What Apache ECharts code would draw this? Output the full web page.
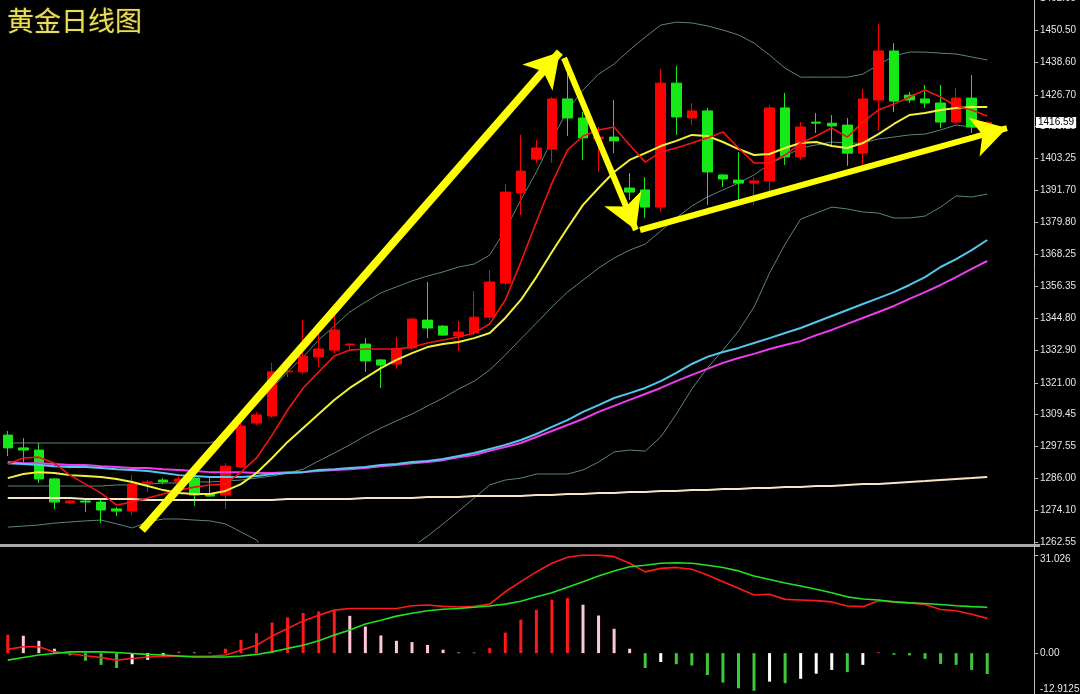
<!DOCTYPE html>
<html><head><meta charset="utf-8">
<script src="https://cdn.jsdelivr.net/npm/echarts@6/dist/echarts.min.js"></script>
<style>html,body{margin:0;padding:0;background:#000;}#c{width:1080px;height:694px;}</style>
</head><body><div id="c"></div>
<script>
const chartTitle = '黄金日线图';
// daily candles (price)
const opens  = [1301.8,1297.1,1296.3,1285.7,1276.9,1277.6,1277.2,1274.7,1273.9,1284.2,1285.3,1284.6,1286.0,1280.2,1279.8,1290.1,1306.2,1308.8,1325.0,1325.0,1330.5,1333.0,1334.9,1335.2,1329.4,1327.9,1333.8,1344.0,1341.8,1338.2,1339.3,1345.1,1357.6,1390.7,1403.1,1406.8,1425.2,1418.2,1410.5,1411.2,1392.5,1391.8,1385.5,1431.0,1418.2,1420.8,1397.3,1395.4,1394.3,1395.1,1421.9,1403.9,1416.7,1416.3,1415.6,1405.3,1424.8,1442.8,1426.6,1425.2,1423.7,1416.7,1425.5,1414.9];
const closes = [1297.1,1296.3,1285.7,1277.2,1277.6,1277.2,1274.3,1273.9,1283.8,1284.6,1284.6,1285.7,1279.8,1279.4,1290.4,1305.1,1309.2,1325.0,1325.3,1330.8,1333.4,1340.4,1335.2,1329.0,1327.5,1333.4,1344.4,1341.1,1338.5,1339.6,1345.1,1358.0,1391.0,1398.7,1407.2,1425.2,1418.2,1410.9,1411.2,1409.8,1391.0,1385.5,1431.0,1418.6,1420.8,1398.4,1395.8,1394.3,1395.1,1421.9,1403.9,1414.9,1416.3,1415.3,1405.3,1425.2,1442.8,1424.4,1424.8,1423.7,1416.7,1425.5,1414.9,1416.59];
const lows   = [1294.1,1291.9,1284.2,1274.7,1276.5,1273.6,1269.5,1272.1,1272.5,1280.9,1283.8,1283.8,1275.8,1279.1,1274.7,1289.7,1305.5,1308.1,1323.1,1324.2,1326.8,1331.9,1333.4,1325.0,1319.1,1326.1,1333.0,1337.4,1338.2,1332.7,1338.5,1344.0,1356.9,1382.6,1401.7,1401.7,1411.6,1402.8,1398.4,1405.3,1388.1,1381.5,1383.7,1412.0,1415.6,1386.3,1392.9,1387.0,1386.3,1391.0,1400.9,1402.8,1412.7,1407.6,1400.6,1400.9,1413.8,1420.4,1423.7,1421.9,1414.5,1416.0,1412.7,1414.5];
const highs  = [1303.3,1300.7,1298.9,1286.0,1278.0,1278.7,1278.0,1275.4,1287.1,1285.3,1286.0,1286.8,1287.1,1286.4,1291.5,1306.2,1310.3,1328.3,1328.3,1344.0,1339.3,1345.9,1335.6,1337.4,1329.7,1337.8,1344.8,1358.0,1342.2,1343.7,1354.7,1362.4,1394.0,1412.0,1410.1,1425.9,1435.1,1420.4,1414.9,1424.8,1398.0,1396.5,1436.2,1437.3,1423.7,1421.9,1397.6,1405.7,1396.5,1423.0,1427.4,1416.7,1420.0,1419.3,1418.2,1428.8,1452.7,1445.7,1427.7,1430.3,1430.3,1429.2,1434.0,1417.1];
// moving averages
const maRed     = [1291.2,1293.4,1293.7,1291.5,1287.1,1283.8,1280.5,1276.1,1277.2,1278.7,1280.2,1281.6,1282.7,1283.5,1283.8,1288.2,1293.4,1301.8,1311.0,1319.1,1325.0,1330.8,1333.0,1333.4,1333.4,1333.4,1334.1,1335.6,1336.7,1337.8,1339.3,1342.6,1351.4,1365.3,1380.0,1394.3,1406.4,1411.6,1413.8,1414.9,1408.3,1402.0,1405.7,1407.2,1409.0,1410.9,1413.1,1407.2,1401.7,1401.7,1404.6,1409.0,1411.6,1414.5,1411.2,1416.7,1421.1,1423.3,1425.9,1428.5,1425.9,1422.6,1421.1,1418.9];
const maYellow  = [1286.0,1287.5,1288.2,1287.9,1287.1,1286.8,1286.4,1285.7,1284.6,1283.1,1281.6,1280.5,1280.2,1280.2,1281.3,1283.8,1287.9,1293.4,1299.3,1304.4,1309.5,1314.7,1319.1,1322.8,1326.4,1329.4,1331.9,1334.1,1335.2,1336.0,1337.4,1339.3,1344.8,1351.4,1359.8,1369.0,1377.8,1386.3,1392.5,1398.4,1402.8,1405.3,1407.9,1409.8,1412.0,1411.6,1409.4,1406.8,1404.6,1405.0,1407.2,1409.0,1409.4,1407.9,1407.2,1409.0,1412.3,1416.0,1419.3,1420.0,1421.1,1421.9,1422.2,1422.2];
const maCyan    = [1291.5,1291.2,1290.8,1290.4,1290.1,1290.1,1289.7,1289.3,1289.0,1288.6,1287.9,1287.1,1286.8,1286.4,1286.4,1286.4,1286.8,1287.5,1287.9,1288.2,1289.0,1289.3,1289.7,1290.1,1290.8,1291.2,1291.9,1292.3,1293.0,1294.1,1295.2,1296.7,1298.2,1300.0,1302.2,1304.8,1307.3,1310.3,1312.8,1315.4,1317.2,1319.1,1321.6,1324.6,1327.9,1330.5,1332.3,1333.8,1335.6,1337.4,1339.3,1341.1,1343.3,1345.5,1347.7,1349.9,1352.1,1354.3,1356.9,1359.8,1363.5,1366.4,1369.7,1373.4];
const maMagenta = [1291.9,1291.5,1291.5,1291.2,1290.8,1290.8,1290.4,1290.1,1289.7,1289.7,1289.3,1289.0,1288.6,1288.2,1288.2,1288.2,1287.9,1287.9,1288.2,1288.2,1288.6,1289.0,1289.3,1289.7,1290.4,1290.8,1291.5,1291.9,1292.6,1293.7,1294.5,1296.0,1297.4,1298.9,1301.1,1303.3,1305.5,1307.7,1310.3,1312.5,1314.7,1316.9,1319.1,1321.6,1323.9,1326.1,1328.3,1330.1,1331.6,1333.4,1334.9,1336.3,1338.5,1340.4,1342.6,1344.8,1347.0,1349.2,1351.8,1354.3,1356.9,1359.8,1362.8,1365.7];
const maCream   = [1278.7,1278.7,1278.7,1278.7,1278.7,1278.3,1278.3,1278.3,1278.3,1278.0,1278.0,1278.0,1278.0,1278.0,1278.0,1278.0,1278.0,1278.0,1278.3,1278.3,1278.3,1278.3,1278.3,1278.7,1278.7,1278.7,1278.7,1279.1,1279.1,1279.1,1279.4,1279.4,1279.4,1279.4,1279.8,1279.8,1280.2,1280.2,1280.5,1280.5,1280.9,1280.9,1281.3,1281.3,1281.6,1281.6,1282.0,1282.0,1282.4,1282.4,1282.7,1282.7,1283.1,1283.1,1283.5,1283.8,1283.8,1284.2,1284.6,1284.9,1285.3,1285.7,1286.0,1286.4];
// Bollinger bands
const bollUpper = [1298.9,1298.9,1298.9,1298.9,1298.9,1298.9,1298.9,1298.9,1298.9,1298.9,1298.9,1298.9,1298.9,1298.9,1300.7,1307.3,1313.2,1319.1,1325.0,1330.5,1336.7,1341.8,1347.0,1350.6,1354.0,1356.2,1358.4,1360.2,1361.7,1363.5,1364.6,1367.9,1377.1,1388.1,1398.4,1410.1,1421.1,1428.5,1434.3,1438.0,1443.2,1447.9,1452.3,1453.4,1453.1,1452.0,1450.5,1448.7,1445.7,1441.3,1436.5,1433.2,1433.2,1433.2,1433.2,1434.3,1437.7,1441.0,1442.4,1442.4,1442.0,1441.7,1440.6,1439.5];
const bollMid   = [1283.1,1283.1,1283.1,1283.1,1283.1,1283.1,1283.1,1283.5,1283.5,1283.8,1284.2,1284.2,1284.6,1284.6,1284.9,1285.3,1286.0,1286.8,1287.9,1289.3,1292.3,1295.2,1298.2,1301.5,1304.4,1307.0,1309.5,1312.5,1315.4,1318.7,1321.6,1325.7,1331.2,1337.1,1342.9,1348.8,1354.3,1358.7,1363.1,1366.8,1369.7,1371.9,1376.7,1381.5,1385.9,1389.2,1391.8,1394.3,1397.3,1401.3,1404.2,1407.2,1408.3,1409.4,1409.0,1409.0,1410.5,1411.2,1412.0,1412.3,1413.8,1415.6,1414.9,1414.9];
const bollLower = [1268.0,1268.4,1268.8,1269.5,1269.9,1270.3,1270.6,1269.2,1267.7,1269.9,1271.0,1271.0,1270.6,1270.3,1269.2,1266.2,1263.3,1254.5,1250.8,1248.2,1247.9,1248.6,1249.3,1252.3,1254.8,1257.8,1260.7,1264.7,1269.2,1273.9,1278.7,1283.5,1285.3,1286.0,1287.5,1287.5,1287.5,1289.0,1291.9,1295.6,1296.3,1295.9,1301.1,1309.5,1318.7,1326.4,1333.0,1340.0,1348.8,1361.3,1371.9,1381.1,1383.3,1385.5,1384.8,1383.7,1383.3,1381.5,1381.5,1382.2,1385.5,1389.6,1389.2,1390.3];
// MACD pane
const macdHist = [5.8,5.5,3.9,1.4,-0.7,-2.4,-3.7,-4.7,-3.5,-2.1,-1.1,0.5,0.2,0.15,1.4,4.2,6.3,9.7,11.3,12.7,13.2,13.4,11.8,8.4,5.6,3.9,3.5,2.6,1.1,0.2,0.15,1.6,6.5,10.6,13.7,16.9,17.4,15.3,11.9,7.7,1.4,-4.7,-2.8,-3.5,-3.9,-6.9,-9.3,-11.1,-11.9,-9.0,-9.5,-8.1,-6.5,-5.3,-6.0,-3.7,0.3,-0.5,-0.7,-1.8,-3.4,-3.7,-5.3,-6.6];
const macdDif  = [1.2,2.0,2.0,0.4,-0.1,-0.8,-1.4,-2.2,-1.7,-1.2,-1.0,-1.0,-1.0,-1.0,-0.6,0.9,2.5,5.4,7.8,10.2,12.0,13.6,14.1,14.1,14.1,14.1,15.0,15.2,14.8,14.6,14.8,15.5,19.4,22.6,25.7,28.4,30.3,31.0,31.0,30.5,28.4,25.7,26.8,27.1,26.5,24.7,22.6,20.5,18.4,18.6,17.0,16.8,16.6,16.2,14.9,14.7,16.6,16.2,15.9,15.4,13.8,13.4,12.3,11.0];
const macdDea  = [-2.2,-1.4,-0.6,-0.1,0.4,0.4,0.4,0.2,-0.1,-0.4,-0.6,-0.9,-1.2,-1.2,-1.2,-0.9,-0.4,0.4,1.5,2.5,3.9,5.7,7.3,9.2,10.4,11.7,12.6,13.4,13.9,14.1,14.5,14.9,15.5,16.4,17.8,19.1,20.8,22.6,24.4,26.0,27.3,27.8,28.4,28.6,28.4,27.8,27.1,26.0,24.4,23.3,22.2,21.2,20.2,19.1,17.8,17.1,16.8,16.2,15.9,15.7,15.4,15.0,14.7,14.5];
// axis ticks
const priceTicks = [1262.55,1274.10,1286.00,1297.55,1309.45,1321.00,1332.90,1344.80,1356.35,1368.25,1379.80,1391.70,1403.25,1415.15,1426.70,1438.60,1450.50,1462.05];
const macdTicks = [31.026, 0, -12.9125];
const macdTickLabels = ['31.026', '0.00', '-12.9125'];
const lastPrice = 1416.59;
// annotation arrows: [start [bar, price], tip [bar, price]]
const arrowPaths = [
  [[8.63, 1266.95], [35.51, 1442.42]],
  [[35.78, 1440.22], [40.40, 1377.08]],
  [[40.67, 1377.08], [64.27, 1414.52]]
];
const arrowWidths = [8, 6, 6];

const days = opens.map((_, i) => String(i + 1));
const candles = opens.map((o, i) => [o, closes[i], lows[i], highs[i]]);
const priceMin = 1262.55, priceMax = 1462.25;
const plotWidth = 995, chartWidth = 1080;
const barSlots = plotWidth / days.length;           // width of one bar slot
const annotMax = -0.5 + chartWidth / barSlots;        // wider overlay axis so the last arrow may pass the price axis

const chart = echarts.init(document.getElementById('c'), null, {renderer: 'canvas'});
const lineS = (data, color, width, z) => ({
  type: 'line', data, xAxisIndex: 0, yAxisIndex: 0, showSymbol: false, symbol: 'none',
  lineStyle: {color, width}, silent: true, z: z || 3, animation: false
});
const axisFont = {color: '#e6e6e6', fontSize: 10, fontFamily: 'Liberation Sans'};

chart.setOption({
  backgroundColor: '#000',
  animation: false,
  title: {text: chartTitle, left: 2, top: 2, textStyle: {color: '#e8de5c', fontSize: 27, fontWeight: 'normal', fontFamily: 'Noto Sans CJK SC',
    textShadowColor: 'rgba(90,80,0,0.8)', textShadowBlur: 2}},
  grid: [
    {left: 0, width: plotWidth, top: -2, height: 544, outerBoundsMode: 'none', containLabel: false},
    {left: 0, width: plotWidth, top: 555, height: 139, outerBoundsMode: 'none', containLabel: false},
    {left: 0, width: chartWidth, top: -2, height: 544, outerBoundsMode: 'none', containLabel: false}
  ],
  xAxis: [
    {type: 'category', gridIndex: 0, data: days, boundaryGap: true, show: false},
    {type: 'value', gridIndex: 0, min: -0.5, max: days.length - 0.5, show: false},
    {type: 'category', gridIndex: 1, data: days, boundaryGap: true, show: false},
    {type: 'value', gridIndex: 2, min: -0.5, max: annotMax, show: false}
  ],
  yAxis: [
    {type: 'value', gridIndex: 0, position: 'right', offset: 39, min: priceMin, max: priceMax,
     splitLine: {show: false},
     axisLine: {show: true, onZero: false, lineStyle: {color: '#bdbdbd', width: 1}},
     axisTick: {show: true, length: 4, inside: false, customValues: priceTicks, lineStyle: {color: '#bdbdbd'}},
     axisLabel: Object.assign({customValues: priceTicks, margin: 6, formatter: v => v.toFixed(2)}, axisFont)},
    {type: 'value', gridIndex: 1, position: 'right', offset: 39, min: -12.9125, max: 31.026,
     splitLine: {show: false},
     axisLine: {show: true, onZero: false, lineStyle: {color: '#bdbdbd', width: 1}},
     axisTick: {show: true, length: 4, customValues: macdTicks, lineStyle: {color: '#bdbdbd'}},
     axisLabel: Object.assign({customValues: macdTicks, margin: 6,
       formatter: v => {
         const k = macdTicks.indexOf(v);
         if (k === 0) return '{hi|' + macdTickLabels[k] + '}';
         if (k === 2) return '{lo|' + macdTickLabels[k] + '}';
         return k >= 0 ? macdTickLabels[k] : '';
       },
       rich: {hi: {padding: [8, 0, 0, 0], color: '#e6e6e6', fontSize: 10, fontFamily: 'Liberation Sans'},
              lo: {padding: [0, 0, 10, 0], color: '#e6e6e6', fontSize: 10, fontFamily: 'Liberation Sans'}}}, axisFont)},
    {type: 'value', gridIndex: 2, min: priceMin, max: priceMax, show: false, splitLine: {show: false}}
  ],
  graphic: [
    {type: 'rect', shape: {x: 0, y: 544, width: 1040, height: 3}, style: {fill: '#a9a9a9'}, silent: true, z: 10},
    {type: 'rect', shape: {x: 1034, y: 540, width: 1, height: 16}, style: {fill: '#bdbdbd'}, silent: true, z: 10}
  ],
  series: [
    {type: 'candlestick', data: candles, xAxisIndex: 0, yAxisIndex: 0, barWidth: 10, silent: true, z: 2,
     itemStyle: {color: '#ff0000', color0: '#17e817', borderColor: '#ff0000', borderColor0: '#17e817', borderWidth: 1}},
    lineS(bollUpper, '#5b8679', 1, 2),
    lineS(bollMid, '#5b8679', 1, 2),
    lineS(bollLower, '#5b8679', 1, 2),
    lineS(maCream, '#f7e3c6', 2),
    lineS(maMagenta, '#ee3cee', 2),
    lineS(maCyan, '#55c6ee', 2),
    lineS(maYellow, '#f2f23a', 2),
    lineS(maRed, '#f01414', 1.6),
    {type: 'line', xAxisIndex: 3, yAxisIndex: 2, data: [], clip: false, silent: true, z: 6,
     markLine: {silent: true, animation: false, symbol: ['none', 'arrow'], symbolSize: [30, 34],
       label: {show: false},
       data: arrowPaths.map((p, k) => [
         {coord: p[0], lineStyle: {color: '#ffff00', width: arrowWidths[k], type: 'solid'}},
         {coord: p[1]}
       ])}},
    {type: 'line', xAxisIndex: 1, yAxisIndex: 0, data: [], clip: false, silent: true, z: 7,
     markLine: {silent: true, animation: false, symbol: 'none',
       lineStyle: {width: 0, color: 'rgba(0,0,0,0)'},
       label: {show: true, position: 'end', distance: 41, formatter: () => lastPrice.toFixed(2),
         backgroundColor: '#ffffff', color: '#000000', fontSize: 10, fontFamily: 'Liberation Sans', padding: [1, 2, 0, 2]},
       data: [[{coord: [-0.5, lastPrice]}, {coord: [days.length - 0.5, lastPrice]}]]}},
    {type: 'bar', data: macdHist, xAxisIndex: 2, yAxisIndex: 1, barWidth: 3, silent: true,
     itemStyle: {color: p => {
       const i = p.dataIndex, v = macdHist[i], pv = i > 0 ? macdHist[i - 1] : v;
       if (v >= 0) return (i === 0 || v >= pv) ? '#ff1a1a' : '#ffc8d6';
       return v <= pv ? '#3ec83e' : '#ffffff';
     }}},
    {type: 'line', data: macdDif, xAxisIndex: 2, yAxisIndex: 1, showSymbol: false, symbol: 'none', silent: true,
     lineStyle: {color: '#ff1a1a', width: 1.6}},
    {type: 'line', data: macdDea, xAxisIndex: 2, yAxisIndex: 1, showSymbol: false, symbol: 'none', silent: true,
     lineStyle: {color: '#22e022', width: 1.6}}
  ]
});
</script></body></html>
